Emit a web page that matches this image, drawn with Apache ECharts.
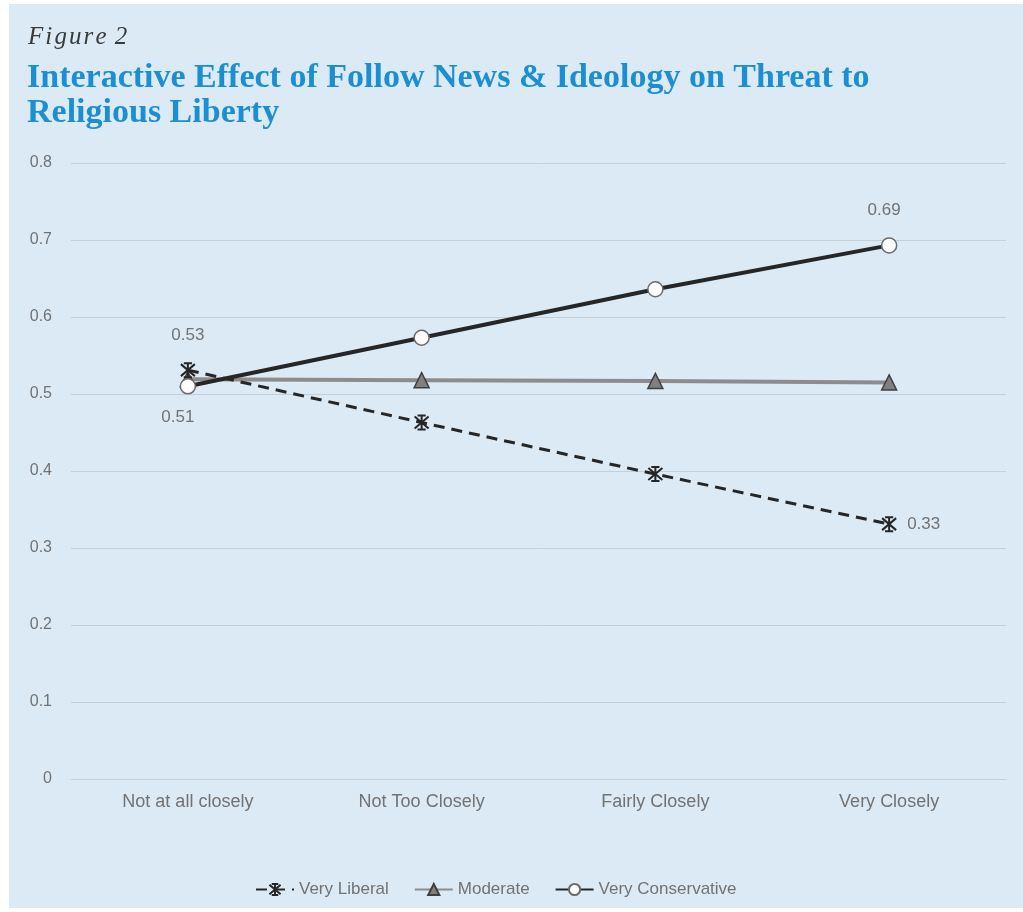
<!DOCTYPE html>
<html>
<head>
<meta charset="utf-8">
<script src="https://cdn.jsdelivr.net/npm/echarts@6/dist/echarts.min.js"></script>
<style>
  html, body { margin: 0; padding: 0; background: #ffffff; }
  #bg { position: absolute; left: 9px; top: 4px; width: 1014px; height: 904px; background: #dceaf6; }
  #chart { position: absolute; left: 0; top: 0; width: 1023px; height: 912px; }
</style>
</head>
<body>
<div id="bg"></div>
<div id="chart"></div>
<script>
const categories = ['Not at all closely', 'Not Too Closely', 'Fairly Closely', 'Very Closely'];
const veryLiberal = [0.531, 0.463, 0.396, 0.331];
const moderate = [0.519, 0.518, 0.517, 0.515];
const veryConservative = [0.510, 0.573, 0.636, 0.693];
const yTicks = { min: 0, max: 0.8, interval: 0.1 };

const sans = 'Liberation Sans, Arial, sans-serif';
const labelColor = '#727272';
const starPath = 'path://M1,1L13,13M13,1L1,13M7,0L7,14M3.5,0L10.5,0M3.5,14L10.5,14';

const chart = echarts.init(document.getElementById('chart'), null, { renderer: 'canvas' });
chart.setOption({
  backgroundColor: 'transparent',
  animation: false,
  title: [
    { text: 'F\u200Ai\u200Ag\u200Au\u200Ar\u200Ae\u200A 2', left: 28, top: 25, padding: 0,
      textStyle: { fontFamily: 'Liberation Serif, serif', fontStyle: 'italic', fontWeight: 'normal', fontSize: 25, color: '#3a3a3a' } },
    { text: 'Interactive Effect of Follow News & Ideology on Threat to\nReligious Liberty', left: 27, top: 61, padding: 0,
      textStyle: { fontFamily: 'Liberation Serif, serif', fontWeight: 'bold', fontSize: 34, lineHeight: 35, color: '#1b8fd2' } }
  ],
  grid: { left: 71, right: 17, top: 163, bottom: 133 },
  legend: {
    top: 876, left: 250,
    itemWidth: 38, itemHeight: 14, itemGap: 25,
    textStyle: { color: labelColor, fontSize: 17, fontFamily: sans },
    data: ['Very Liberal', 'Moderate', 'Very Conservative']
  },
  xAxis: {
    type: 'category', data: categories, boundaryGap: true,
    axisLine: { show: true, lineStyle: { color: '#c3d0dc', width: 1 } },
    axisTick: { show: false },
    axisLabel: { margin: 14, color: labelColor, fontSize: 18, fontFamily: sans }
  },
  yAxis: {
    type: 'value', min: yTicks.min, max: yTicks.max, interval: yTicks.interval,
    axisLine: { show: false }, axisTick: { show: false },
    splitLine: { lineStyle: { color: '#c3d0dc', width: 1 } },
    axisLabel: { margin: 19, color: labelColor, fontSize: 16, fontFamily: sans,
      formatter: v => v === 0 ? '0' : v.toFixed(1) }
  },
  series: [
    {
      name: 'Very Liberal', type: 'line', z: 3,
      symbol: starPath, symbolSize: 14,
      lineStyle: { color: '#262626', width: 3, type: [11, 7] },
      itemStyle: { color: 'rgba(0,0,0,0)', borderColor: '#262626', borderWidth: 2 },
      label: { show: true, color: labelColor, fontSize: 17, fontFamily: sans, formatter: p => p.value.toFixed(2) },
      data: veryLiberal.map((v, i) => {
        if (i === 0) return { value: v, label: { position: 'top', distance: 18 } };
        if (i === 3) return { value: v, label: { position: 'right', distance: 10 } };
        return { value: v, label: { show: false } };
      })
    },
    {
      name: 'Moderate', type: 'line', z: 2,
      symbol: 'triangle', symbolSize: 15,
      lineStyle: { color: '#8c8c8c', width: 4 },
      itemStyle: { color: '#808080', borderColor: '#3f3f3f', borderWidth: 1.5 },
      data: moderate
    },
    {
      name: 'Very Conservative', type: 'line', z: 4,
      symbol: 'circle', symbolSize: 15,
      lineStyle: { color: '#262626', width: 4 },
      itemStyle: { color: '#ffffff', borderColor: '#6a6a6a', borderWidth: 1.5 },
      label: { show: true, color: labelColor, fontSize: 17, fontFamily: sans, formatter: p => p.value.toFixed(2) },
      data: veryConservative.map((v, i) => {
        if (i === 0) return { value: v, label: { position: 'bottom', distance: 14, offset: [-10, 0] } };
        if (i === 3) return { value: v, label: { position: 'top', distance: 18, offset: [-5, 0] } };
        return { value: v, label: { show: false } };
      })
    }
  ]
});
</script>
</body>
</html>
